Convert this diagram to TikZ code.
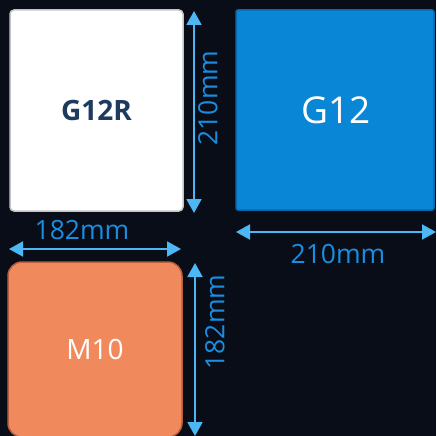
\documentclass[tikz,border=0pt]{standalone}
\usepackage{fontspec}
\setmainfont{Open Sans}
\usetikzlibrary{arrows.meta}
\definecolor{bg}{HTML}{080D17}
\definecolor{arrowc}{HTML}{4DB6F5}
\definecolor{labelc}{HTML}{1A8DE0}
\definecolor{g12fill}{HTML}{0A86D6}
\definecolor{g12edge}{HTML}{0A68A8}
\definecolor{m10fill}{HTML}{F08A5D}
\definecolor{m10edge}{HTML}{B8603C}
\definecolor{navy}{HTML}{1E3A5F}
\definecolor{grayedge}{HTML}{C4C4C4}
\begin{document}
\begin{tikzpicture}[x=1pt,y=-1pt,
  dim/.style={arrowc, line width=2pt, {Triangle[length=14pt,width=15pt]}-{Triangle[length=14pt,width=15pt]}},
  dimlabel/.style={text=labelc, font=\fontsize{26.5}{26.5}\selectfont, inner sep=0pt},
  boxtext/.style={font=\fontsize{28}{28}\selectfont, inner sep=0pt}]
\fill[bg] (0,0) rectangle (436,436);
\useasboundingbox (0,0) rectangle (436,436);
% boxes
\draw[fill=white, draw=grayedge, line width=1.5pt, rounded corners=4pt] (10,10) rectangle (183,211);
\node[boxtext, text=navy, font=\fontsize{28}{28}\selectfont\bfseries] (g12r) at (96.5,110) {G12R};
\draw[fill=g12fill, draw=g12edge, line width=1.5pt, rounded corners=2pt] (236,10) rectangle (434,210);
\node[inner sep=0pt, text=white, font=\fontsize{37}{37}\selectfont] (g12) at (336,110) {G12};
\draw[fill=m10fill, draw=m10edge, line width=1.5pt, rounded corners=14pt] (8,262) rectangle (182,437);
\node[boxtext, text=white] (m10) at (95,349) {M10};
% dimension endpoints
\coordinate (a1) at (194,11);
\coordinate (a2) at (194,213);
\coordinate (b1) at (236,232);
\coordinate (b2) at (436,232);
\coordinate (c1) at (9,249);
\coordinate (c2) at (181,249);
\coordinate (d1) at (195,263);
\coordinate (d2) at (195,436);
\draw[dim] (a1) -- (a2);
\draw[dim] (b1) -- (b2);
\draw[dim] (c1) -- (c2);
\draw[dim] (d1) -- (d2);
\node[dimlabel, rotate=90] (la) at (208,98) {210mm};
\node[dimlabel] (lb) at (338,254) {210mm};
\node[dimlabel] (lc) at (82,230) {182mm};
\node[dimlabel, rotate=90] (ld) at (215,322) {182mm};
\end{tikzpicture}
\end{document}
